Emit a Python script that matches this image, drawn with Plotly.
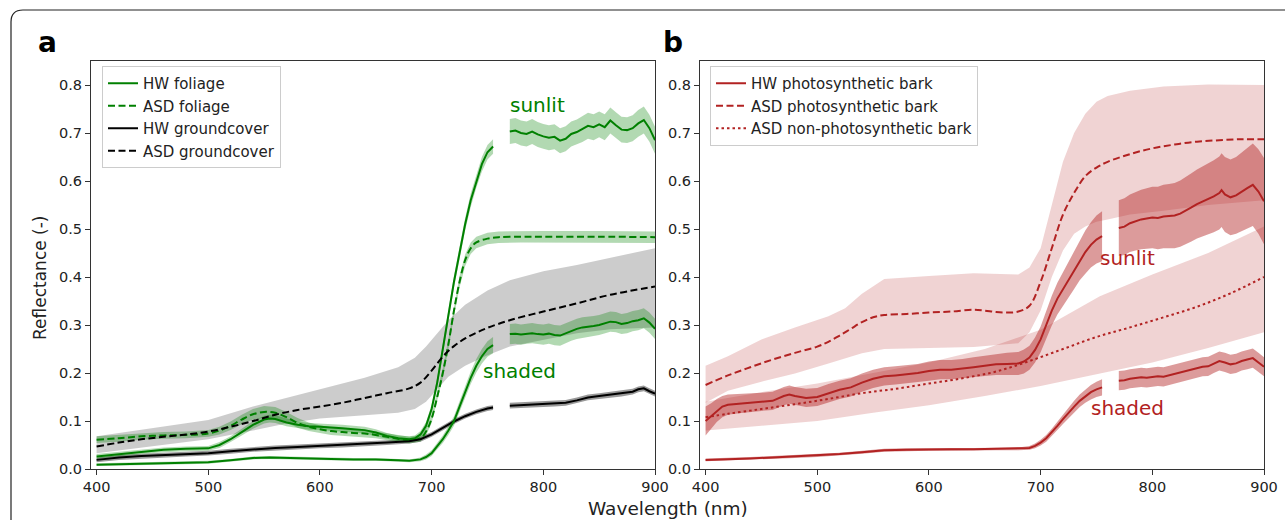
import plotly.graph_objects as go

# ---------------- Panel a data ----------------
# HW foliage sunlit (None = gap in HW data)
A_SUN_WL = [400, 420, 440, 460, 480, 500, 510, 520, 530, 540, 550, 555, 560, 570, 580, 590, 600, 610, 620, 630,
            640, 650, 660, 670, 680, 685, 690, 695, 700, 705, 710, 715, 720, 725, 730, 735, 740, 745, 750, 755, None,
            770, 775, 780, 785, 790, 795, 800, 805, 810, 815, 820, 825, 830, 835, 840, 845, 850, 855, 860, 865, 870,
            875, 880, 885, 890, 895, 900]
A_SUN_M = [0.026, 0.031, 0.036, 0.040, 0.042, 0.043, 0.050, 0.062, 0.077, 0.092, 0.103, 0.105, 0.104, 0.097, 0.092,
           0.089, 0.088, 0.087, 0.085, 0.083, 0.081, 0.076, 0.069, 0.064, 0.062, 0.064, 0.072, 0.090, 0.125, 0.180,
           0.250, 0.320, 0.390, 0.450, 0.510, 0.560, 0.600, 0.635, 0.660, 0.672, None,
           0.703, 0.705, 0.700, 0.698, 0.703, 0.697, 0.693, 0.690, 0.692, 0.684, 0.688, 0.698, 0.702, 0.708, 0.715,
           0.712, 0.718, 0.712, 0.726, 0.716, 0.707, 0.706, 0.710, 0.720, 0.727, 0.710, 0.685]
A_SUN_H = [0.005, 0.005, 0.005, 0.005, 0.005, 0.005, 0.006, 0.006, 0.007, 0.008, 0.008, 0.008, 0.008, 0.008, 0.007,
           0.007, 0.007, 0.007, 0.007, 0.007, 0.007, 0.007, 0.006, 0.006, 0.006, 0.006, 0.007, 0.008, 0.009, 0.010,
           0.011, 0.012, 0.012, 0.013, 0.013, 0.014, 0.014, 0.015, 0.015, 0.015, None,
           0.026, 0.026, 0.026, 0.026, 0.026, 0.026, 0.026, 0.026, 0.026, 0.026, 0.026, 0.026, 0.026, 0.027, 0.027,
           0.027, 0.027, 0.027, 0.027, 0.027, 0.027, 0.027, 0.027, 0.028, 0.028, 0.028, 0.028]

# HW foliage shaded
A_SHD_WL = [400, 420, 440, 460, 480, 500, 520, 540, 555, 570, 590, 610, 630, 650, 670, 680, 690, 695, 700, 705, 710,
            715, 720, 725, 730, 735, 740, 745, 750, 755, None,
            770, 775, 780, 785, 790, 795, 800, 805, 810, 815, 820, 825, 830, 835, 840, 845, 850, 855, 860, 865, 870,
            875, 880, 885, 890, 895, 900]
A_SHD_M = [0.009, 0.010, 0.011, 0.012, 0.013, 0.014, 0.018, 0.023, 0.024, 0.023, 0.021, 0.021, 0.020, 0.020, 0.018,
           0.017, 0.020, 0.025, 0.033, 0.048, 0.062, 0.080, 0.100, 0.130, 0.160, 0.190, 0.215, 0.235, 0.250, 0.258,
           None,
           0.281, 0.282, 0.280, 0.282, 0.283, 0.281, 0.280, 0.282, 0.279, 0.278, 0.283, 0.288, 0.292, 0.295, 0.296,
           0.298, 0.300, 0.303, 0.307, 0.306, 0.302, 0.304, 0.308, 0.310, 0.314, 0.305, 0.292]
A_SHD_H = [0.003, 0.003, 0.003, 0.003, 0.003, 0.003, 0.003, 0.003, 0.003, 0.003, 0.003, 0.003, 0.003, 0.003, 0.003,
           0.003, 0.004, 0.005, 0.006, 0.007, 0.008, 0.009, 0.010, 0.011, 0.012, 0.013, 0.014, 0.015, 0.016, 0.017,
           None,
           0.021, 0.021, 0.021, 0.021, 0.021, 0.021, 0.021, 0.021, 0.021, 0.021, 0.021, 0.021, 0.021, 0.021, 0.021,
           0.021, 0.021, 0.021, 0.021, 0.021, 0.021, 0.021, 0.021, 0.021, 0.021, 0.021, 0.021]

# ASD foliage
A_ASDF_WL = [400, 420, 440, 460, 480, 500, 510, 520, 530, 540, 550, 560, 570, 580, 590, 600, 610, 620, 630, 640, 650,
             660, 670, 680, 690, 695, 700, 705, 710, 715, 720, 725, 730, 735, 740, 750, 760, 780, 800, 850, 900]
A_ASDF_M = [0.061, 0.064, 0.068, 0.070, 0.071, 0.074, 0.080, 0.090, 0.103, 0.114, 0.119, 0.117, 0.108, 0.096, 0.088,
            0.083, 0.079, 0.077, 0.075, 0.074, 0.071, 0.067, 0.063, 0.060, 0.064, 0.078, 0.105, 0.150, 0.200, 0.260,
            0.330, 0.390, 0.435, 0.460, 0.472, 0.480, 0.483, 0.484, 0.484, 0.484, 0.483]
A_ASDF_H = [0.007, 0.007, 0.007, 0.007, 0.007, 0.007, 0.008, 0.009, 0.010, 0.011, 0.012, 0.012, 0.011, 0.010, 0.009,
            0.008, 0.008, 0.008, 0.008, 0.008, 0.007, 0.007, 0.007, 0.007, 0.007, 0.008, 0.009, 0.010, 0.010, 0.011,
            0.011, 0.012, 0.012, 0.012, 0.012, 0.012, 0.012, 0.012, 0.012, 0.012, 0.012]

# HW groundcover
A_HWG_WL = [400, 420, 440, 460, 480, 500, 520, 540, 560, 580, 600, 620, 640, 660, 680, 690, 700, 710, 720, 730, 740,
            750, 755, None, 770, 780, 790, 800, 810, 820, 830, 840, 850, 860, 870, 880, 885, 890, 895, 900]
A_HWG_M = [0.019, 0.024, 0.027, 0.029, 0.031, 0.033, 0.037, 0.041, 0.044, 0.046, 0.048, 0.050, 0.052, 0.055, 0.058,
           0.062, 0.072, 0.085, 0.099, 0.110, 0.119, 0.126, 0.128, None,
           0.132, 0.133, 0.134, 0.135, 0.136, 0.138, 0.143, 0.149, 0.152, 0.155, 0.157, 0.161, 0.166, 0.168, 0.162,
           0.157]
A_HWG_H = [0.005] * 23 + [None] + [0.006] * 16

# ASD groundcover
A_ASDG_WL = [400, 420, 440, 460, 480, 500, 520, 540, 560, 580, 600, 620, 640, 660, 680, 690, 700, 710, 720, 730, 740,
             750, 770, 800, 830, 860, 900]
A_ASDG_M = [0.047, 0.055, 0.062, 0.067, 0.072, 0.078, 0.088, 0.100, 0.113, 0.123, 0.130, 0.138, 0.148, 0.158, 0.168,
            0.180, 0.205, 0.234, 0.256, 0.272, 0.284, 0.294, 0.310, 0.328, 0.345, 0.363, 0.380]
A_ASDG_BWL = [400, 450, 500, 540, 570, 600, 640, 670, 685, 695, 705, 715, 730, 750, 770, 800, 830, 860, 900]
A_ASDG_LO = [0.033, 0.048, 0.062, 0.080, 0.095, 0.105, 0.112, 0.117, 0.125, 0.140, 0.165, 0.192, 0.215, 0.237, 0.255,
             0.269, 0.283, 0.291, 0.295]
A_ASDG_HI = [0.068, 0.085, 0.102, 0.130, 0.148, 0.166, 0.190, 0.212, 0.232, 0.255, 0.283, 0.310, 0.342, 0.372, 0.393,
             0.412, 0.425, 0.440, 0.460]

# ---------------- Panel b data ----------------
B_SUN_WL = [400, 405, 410, 415, 420, 430, 440, 450, 460, 470, 475, 480, 490, 500, 510, 520, 530, 540, 550, 560, 570,
            580, 590, 600, 610, 620, 630, 640, 650, 660, 670, 680, 685, 690, 695, 700, 705, 710, 715, 720, 725, 730,
            735, 740, 745, 750, 755, None,
            770, 775, 780, 785, 790, 795, 800, 805, 810, 815, 820, 825, 830, 835, 840, 845, 850, 855, 860, 862, 865,
            870, 875, 880, 885, 890, 895, 900]
B_SUN_M = [0.100, 0.110, 0.122, 0.130, 0.134, 0.136, 0.138, 0.140, 0.142, 0.152, 0.155, 0.152, 0.148, 0.150, 0.158,
           0.165, 0.170, 0.180, 0.188, 0.193, 0.195, 0.197, 0.200, 0.204, 0.207, 0.207, 0.209, 0.212, 0.215, 0.218,
           0.219, 0.220, 0.224, 0.232, 0.248, 0.270, 0.300, 0.330, 0.355, 0.375, 0.395, 0.415, 0.435, 0.452, 0.467,
           0.478, 0.485, None,
           0.502, 0.505, 0.512, 0.516, 0.520, 0.522, 0.524, 0.523, 0.526, 0.527, 0.528, 0.532, 0.538, 0.545, 0.552,
           0.557, 0.563, 0.568, 0.575, 0.581, 0.572, 0.566, 0.570, 0.578, 0.585, 0.592, 0.578, 0.558]
B_SUN_H = [0.030, 0.027, 0.024, 0.022, 0.021, 0.020, 0.019, 0.019, 0.019, 0.019, 0.019, 0.019, 0.019, 0.019, 0.019,
           0.019, 0.019, 0.019, 0.019, 0.019, 0.019, 0.019, 0.019, 0.020, 0.020, 0.020, 0.020, 0.021, 0.021, 0.022,
           0.023, 0.024, 0.025, 0.025, 0.026, 0.027, 0.029, 0.031, 0.033, 0.035, 0.037, 0.040, 0.042, 0.045, 0.047,
           0.050, 0.052, None,
           0.058, 0.059, 0.060, 0.061, 0.062, 0.063, 0.064, 0.065, 0.066, 0.067, 0.068, 0.069, 0.070, 0.071, 0.072,
           0.073, 0.074, 0.075, 0.076, 0.077, 0.078, 0.079, 0.080, 0.082, 0.084, 0.086, 0.088, 0.090]

B_SHD_WL = [400, 420, 440, 460, 480, 500, 520, 540, 560, 580, 600, 620, 640, 660, 680, 690, 695, 700, 705, 710, 715,
            720, 725, 730, 735, 740, 745, 750, 755, None,
            770, 775, 780, 785, 790, 795, 800, 805, 810, 815, 820, 825, 830, 835, 840, 845, 850, 855, 860, 865, 870,
            875, 880, 885, 890, 895, 900]
B_SHD_M = [0.019, 0.020, 0.022, 0.024, 0.026, 0.028, 0.031, 0.035, 0.039, 0.040, 0.041, 0.041, 0.041, 0.042, 0.042,
           0.044, 0.048, 0.055, 0.064, 0.076, 0.090, 0.104, 0.118, 0.130, 0.142, 0.152, 0.160, 0.166, 0.170, None,
           0.184, 0.185, 0.188, 0.190, 0.191, 0.190, 0.192, 0.193, 0.192, 0.195, 0.198, 0.200, 0.203, 0.207, 0.210,
           0.213, 0.214, 0.220, 0.225, 0.222, 0.218, 0.220, 0.225, 0.228, 0.231, 0.222, 0.213]
B_SHD_H = [0.003] * 15 + [0.004, 0.005, 0.006, 0.007, 0.008, 0.009, 0.010, 0.011, 0.012, 0.013, 0.014, 0.015, 0.016,
                          0.017, None] + [0.020] * 27

B_ASDP_WL = [400, 420, 440, 460, 480, 500, 510, 520, 530, 540, 550, 560, 580, 600, 620, 640, 650, 660, 670, 680, 690,
             700, 710, 720, 730, 740, 750, 760, 780, 800, 820, 840, 860, 880, 900]
B_ASDP_M = [0.175, 0.195, 0.212, 0.228, 0.242, 0.255, 0.265, 0.278, 0.292, 0.306, 0.316, 0.321, 0.323, 0.326, 0.328,
            0.332, 0.330, 0.327, 0.326, 0.328, 0.340, 0.390, 0.460, 0.530, 0.575, 0.610, 0.628, 0.640, 0.656, 0.668,
            0.676, 0.682, 0.685, 0.687, 0.687]
B_ASDP_BWL = [400, 420, 450, 480, 510, 525, 540, 560, 600, 640, 680, 690, 700, 710, 720, 730, 740, 750, 760, 780, 810,
              850, 900]
B_ASDP_LO = [0.138, 0.163, 0.182, 0.199, 0.220, 0.230, 0.241, 0.250, 0.252, 0.254, 0.262, 0.285, 0.330, 0.400, 0.455,
             0.490, 0.505, 0.515, 0.520, 0.530, 0.538, 0.550, 0.560]
B_ASDP_HI = [0.215, 0.235, 0.270, 0.295, 0.318, 0.335, 0.365, 0.396, 0.402, 0.408, 0.405, 0.420, 0.460, 0.550, 0.640,
             0.700, 0.740, 0.765, 0.777, 0.788, 0.797, 0.801, 0.800]

B_ASDN_WL = [400, 420, 450, 480, 510, 540, 570, 600, 630, 660, 690, 720, 750, 780, 810, 840, 870, 900]
B_ASDN_M = [0.108, 0.115, 0.125, 0.135, 0.146, 0.158, 0.167, 0.178, 0.189, 0.203, 0.225, 0.250, 0.275, 0.295, 0.316,
            0.338, 0.366, 0.400]
B_ASDN_BWL = [400, 450, 500, 550, 600, 650, 700, 753, 800, 850, 900]
B_ASDN_LO = [0.080, 0.090, 0.100, 0.117, 0.133, 0.152, 0.173, 0.199, 0.222, 0.252, 0.285]
B_ASDN_HI = [0.140, 0.160, 0.178, 0.200, 0.222, 0.250, 0.290, 0.360, 0.405, 0.450, 0.505]

X_TICKS = [400, 500, 600, 700, 800, 900]
Y_TICKS = [0.0, 0.1, 0.2, 0.3, 0.4, 0.5, 0.6, 0.7, 0.8]

GREEN = "#008000"
RED = "#b22222"
FONT = "DejaVu Sans"
W, H = 1285, 520


def split(wl, *cols):
    segs, cur = [], [[] for _ in range(len(cols) + 1)]
    for i, w in enumerate(wl):
        if w is None:
            segs.append(cur)
            cur = [[] for _ in range(len(cols) + 1)]
            continue
        cur[0].append(w)
        for k, c in enumerate(cols):
            cur[k + 1].append(c[i])
    segs.append(cur)
    return segs


fig = go.Figure()


def band(wl, lo, hi, color, ax, shape="linear"):
    fig.add_trace(go.Scatter(x=list(wl) + list(wl)[::-1], y=list(hi) + list(lo)[::-1], fill="toself",
                             fillcolor=color, line=dict(width=0, color=color, shape=shape), mode="lines",
                             hoverinfo="skip", showlegend=False, xaxis="x" + ax, yaxis="y" + ax))


def band_mh(wl, m, h, color, ax):
    for s in split(wl, m, h):
        w, mm, hh = s
        band(w, [a - b for a, b in zip(mm, hh)], [a + b for a, b in zip(mm, hh)], color, ax)


def line(wl, m, color, dash, ax, name=None, legend="legend", shape="linear"):
    fig.add_trace(go.Scatter(x=wl, y=m, mode="lines", connectgaps=False,
                             line=dict(color=color, width=2, dash=dash, shape=shape),
                             name=name, showlegend=name is not None, legend=legend,
                             xaxis="x" + ax, yaxis="y" + ax, hoverinfo="skip"))


DASH = "7px,3.5px"
DOT = "2.5px,3px"

# panel a bands
band(A_ASDG_BWL, A_ASDG_LO, A_ASDG_HI, "rgba(0,0,0,0.2)", "")
band_mh(A_HWG_WL, A_HWG_M, A_HWG_H, "rgba(0,0,0,0.4)", "")
band_mh(A_ASDF_WL, A_ASDF_M, A_ASDF_H, "rgba(0,128,0,0.3)", "")
band_mh(A_SUN_WL, A_SUN_M, A_SUN_H, "rgba(0,128,0,0.3)", "")
band_mh(A_SHD_WL, A_SHD_M, A_SHD_H, "rgba(0,128,0,0.3)", "")
# panel a lines
line(A_SUN_WL, A_SUN_M, GREEN, "solid", "", "HW foliage")
line(A_ASDF_WL, A_ASDF_M, GREEN, DASH, "", "ASD foliage", shape="spline")
line(A_HWG_WL, A_HWG_M, "black", "solid", "", "HW groundcover")
line(A_ASDG_WL, A_ASDG_M, "black", DASH, "", "ASD groundcover", shape="spline")
line(A_SHD_WL, A_SHD_M, GREEN, "solid", "")

# panel b bands
band(B_ASDP_BWL, B_ASDP_LO, B_ASDP_HI, "rgba(178,34,34,0.2)", "2")
band(B_ASDN_BWL, B_ASDN_LO, B_ASDN_HI, "rgba(178,34,34,0.2)", "2")
band_mh(B_SUN_WL, B_SUN_M, B_SUN_H, "rgba(178,34,34,0.45)", "2")
band_mh(B_SHD_WL, B_SHD_M, B_SHD_H, "rgba(178,34,34,0.45)", "2")
# panel b lines
line(B_SUN_WL, B_SUN_M, RED, "solid", "2", "HW photosynthetic bark", "legend2")
line(B_ASDP_WL, B_ASDP_M, RED, DASH, "2", "ASD photosynthetic bark", "legend2", shape="spline")
line(B_ASDN_WL, B_ASDN_M, RED, DOT, "2", "ASD non-photosynthetic bark", "legend2", shape="spline")
line(B_SHD_WL, B_SHD_M, RED, "solid", "2")

tickfont = dict(family=FONT, size=14.5, color="#222")
ax_common = dict(range=[395, 900], tickvals=X_TICKS, ticks="outside", ticklen=5, tickcolor="#333",
                 showline=True, linecolor="#333", linewidth=1, mirror=True, showgrid=False, zeroline=False,
                 tickfont=tickfont, automargin=False)
ay_common = dict(range=[0, 0.85], tickvals=Y_TICKS, tickformat=".1f", ticks="outside", ticklen=5, tickcolor="#333",
                 showline=True, linecolor="#333", linewidth=1, mirror=True, showgrid=False, zeroline=False,
                 tickfont=tickfont, automargin=False)

y0, y1 = (H - 469) / H, (H - 61) / H
legfont = dict(family=FONT, size=15, color="#222")
fig.update_layout(
    width=W, height=H, margin=dict(l=0, r=0, t=0, b=0, autoexpand=False),
    paper_bgcolor="white", plot_bgcolor="white",
    font=dict(family=FONT),
    xaxis=dict(domain=[91 / W, 655 / W], anchor="y", **ax_common),
    yaxis=dict(domain=[y0, y1], anchor="x", **ay_common),
    xaxis2=dict(domain=[700 / W, 1264 / W], anchor="y2", **ax_common),
    yaxis2=dict(domain=[y0, y1], anchor="x2", **ay_common),
    legend=dict(x=102 / W, y=1 - 66 / H, xanchor="left", yanchor="top", font=legfont,
                bgcolor="rgba(255,255,255,0.8)", bordercolor="#cccccc", borderwidth=1, tracegroupgap=0),
    legend2=dict(x=710 / W, y=1 - 66 / H, xanchor="left", yanchor="top", font=legfont,
                 bgcolor="rgba(255,255,255,0.8)", bordercolor="#cccccc", borderwidth=1, tracegroupgap=0),
    showlegend=True,
)

ann = [
    dict(text="<b>a</b>", x=47 / W, y=1 - 42 / H, font=dict(size=28, color="black")),
    dict(text="<b>b</b>", x=673 / W, y=1 - 42 / H, font=dict(size=28, color="black")),
    dict(text="Wavelength (nm)", x=668 / W, y=1 - 508 / H, font=dict(size=18.5, color="#222")),
    dict(text="Reflectance (-)", x=40 / W, y=1 - 278 / H, textangle=-90, font=dict(size=17, color="#222")),
]
for a in ann:
    a.update(xref="paper", yref="paper", showarrow=False, xanchor="center", yanchor="middle")
    a["font"]["family"] = FONT
fig.update_layout(annotations=ann)
fig.add_annotation(text="sunlit", x=795, y=0.758, xref="x", yref="y", showarrow=False,
                   font=dict(family=FONT, size=20, color=GREEN))
fig.add_annotation(text="shaded", x=779, y=0.205, xref="x", yref="y", showarrow=False,
                   font=dict(family=FONT, size=20, color=GREEN))
fig.add_annotation(text="sunlit", x=778, y=0.44, xref="x2", yref="y2", showarrow=False,
                   font=dict(family=FONT, size=20, color=RED))
fig.add_annotation(text="shaded", x=778, y=0.127, xref="x2", yref="y2", showarrow=False,
                   font=dict(family=FONT, size=20, color=RED))

# rounded outer frame (top-left corner rounded)
px = lambda v: v / W
py = lambda v: 1 - v / H
path = (f"M {px(11)},{py(521)} L {px(11)},{py(22)} Q {px(11)},{py(10)} {px(23)},{py(10)} L {px(1290)},{py(10)}")
fig.add_shape(type="path", path=path, xref="paper", yref="paper", line=dict(color="#222", width=1.2))

fig.write_html("out.html", config={"displayModeBar": False},
               post_script="document.body.style.margin='0';document.body.style.overflow='hidden';")
